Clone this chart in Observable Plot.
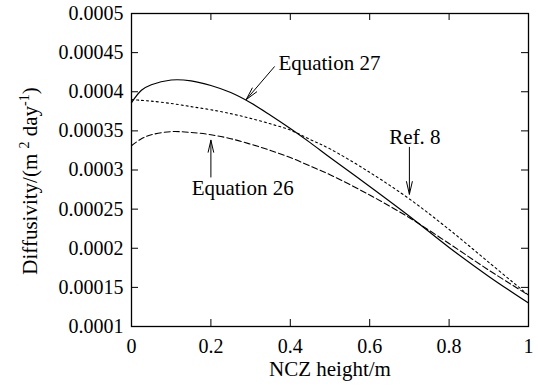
<!DOCTYPE html>
<html><head><meta charset="utf-8">
<script src="https://cdn.jsdelivr.net/npm/d3@7"></script>
<script src="https://cdn.jsdelivr.net/npm/@observablehq/plot@0.6"></script>
<style>
body{margin:0;background:#fff}
#chart svg text, #chart svg tspan { font-family: Liberation Serif; }
</style>
</head><body><div id="chart"></div>
<script>
// NCZ height (m)
const heights = [0, 0.025, 0.05, 0.1, 0.15, 0.2, 0.25, 0.3, 0.35, 0.4, 0.45, 0.5, 0.6, 0.7, 0.8, 0.9, 1.0];
// Diffusivity (m^2 day^-1)
const eq27 = [0.000386, 0.000402, 0.000409, 0.000415, 0.000414, 0.000408, 0.000399, 0.000386, 0.000370, 0.000353, 0.000335, 0.000316, 0.000279, 0.000241, 0.000201, 0.000164, 0.000130];
const eq26 = [0.000331, 0.000340, 0.000345, 0.000349, 0.000348, 0.000345, 0.000340, 0.000333, 0.000325, 0.000316, 0.000305, 0.000294, 0.000268, 0.000239, 0.000206, 0.000172, 0.000140];
const ref8 = [0.000390, 0.000389, 0.000388, 0.000385, 0.000381, 0.000377, 0.000372, 0.000366, 0.000359, 0.000351, 0.000339, 0.000327, 0.000297, 0.000263, 0.000224, 0.000182, 0.000140];

const xTicks = [0, 0.2, 0.4, 0.6, 0.8, 1];
const yTicks = [0.0001, 0.00015, 0.0002, 0.00025, 0.0003, 0.00035, 0.0004, 0.00045, 0.0005];

// annotation labels (data coordinates)
const noteText = ["Equation 27", "Ref. 8", "Equation 26"];
const noteX = [0.370, 0.714, 0.28];
const noteY = [0.000436, 0.0003415, 0.0002764];
const noteAnchor = ["start", "middle", "middle"];
// annotation arrows (data coordinates)
const arrowX1 = [0.360, 0.700, 0.200];
const arrowY1 = [0.000432, 0.000329, 0.000291];
const arrowX2 = [0.289, 0.700, 0.200];
const arrowY2 = [0.000390, 0.000269, 0.000338];

const W = 538, H = 388, mL = 131, mR = 10, mT = 13, mB = 62;
const innerW = W - mL - mR, innerH = H - mT - mB, tk = 7;
const FONT = "Liberation Serif";

const toRows = (vals) => heights.map((h, i) => ({h, v: vals[i]}));
const notes = noteText.map((t, i) => ({t, x: noteX[i], y: noteY[i], a: noteAnchor[i]}));
const arrows = arrowX1.map((_, i) => ({x1: arrowX1[i], y1: arrowY1[i], x2: arrowX2[i], y2: arrowY2[i]}));

const chart = Plot.plot({
  width: W, height: H,
  marginLeft: mL, marginRight: mR, marginTop: mT, marginBottom: mB,
  style: {fontFamily: FONT},
  x: {domain: [0, 1]},
  y: {domain: [0.0001, 0.0005]},
  marks: [
    Plot.line(toRows(eq27), {x: "h", y: "v", curve: "catmull-rom", stroke: "black", strokeWidth: 1.2}),
    Plot.line(toRows(ref8), {x: "h", y: "v", curve: "catmull-rom", stroke: "black", strokeWidth: 1.1, strokeDasharray: "2,3"}),
    Plot.line(toRows(eq26), {x: "h", y: "v", curve: "catmull-rom", stroke: "black", strokeWidth: 1.1, strokeDasharray: "6,3"}),
    Plot.frame({stroke: "black", strokeWidth: 1.3}),
    Plot.tickX(xTicks, {x: d => d, insetTop: innerH - tk, stroke: "black"}),
    Plot.tickX(xTicks, {x: d => d, insetBottom: innerH - tk, stroke: "black"}),
    Plot.tickY(yTicks, {y: d => d, insetRight: innerW - tk, stroke: "black"}),
    Plot.tickY(yTicks, {y: d => d, insetLeft: innerW - tk, stroke: "black"}),
    Plot.axisX(xTicks, {tickSize: 0, tickPadding: 12, tickFormat: d => String(d), label: null, fontSize: 20, fontFamily: FONT, fill: "black"}),
    Plot.axisY(yTicks, {tickSize: 0, tickPadding: 8, tickFormat: d => String(d), label: null, fontSize: 20, fontFamily: FONT, fill: "black"}),
    Plot.text(["NCZ height/m"], {frameAnchor: "bottom", dy: 49, fontSize: 21, fill: "black", fontFamily: FONT}),
    Plot.arrow(arrows, {x1: "x1", y1: "y1", x2: "x2", y2: "y2", stroke: "black", strokeWidth: 1, headLength: 19.5, headAngle: 26}),
    Plot.text(notes.filter(d => d.a === "start"), {x: "x", y: "y", text: "t", textAnchor: "start", fontSize: 21, fill: "black", fontFamily: FONT}),
    Plot.text(notes.filter(d => d.a === "middle"), {x: "x", y: "y", text: "t", textAnchor: "middle", fontSize: 21, fill: "black", fontFamily: FONT})
  ]
});

const svg = d3.select(chart);
svg.attr("font-family", FONT);
const yl = svg.append("text")
  .attr("transform", "translate(37,181) rotate(-90)")
  .attr("text-anchor", "middle")
  .attr("font-size", 21)
  .attr("fill", "black");
yl.append("tspan").text("Diffusivity/(m ");
yl.append("tspan").attr("font-size", 14).attr("dy", -8).text("2");
yl.append("tspan").attr("dy", 8).text(" day");
yl.append("tspan").attr("font-size", 14).attr("dy", -8).text("-1");
yl.append("tspan").attr("dy", 8).text(")");
svg.selectAll("text").attr("font-family", FONT).style("font-family", FONT);

document.getElementById("chart").appendChild(chart);
</script>
</body></html>
